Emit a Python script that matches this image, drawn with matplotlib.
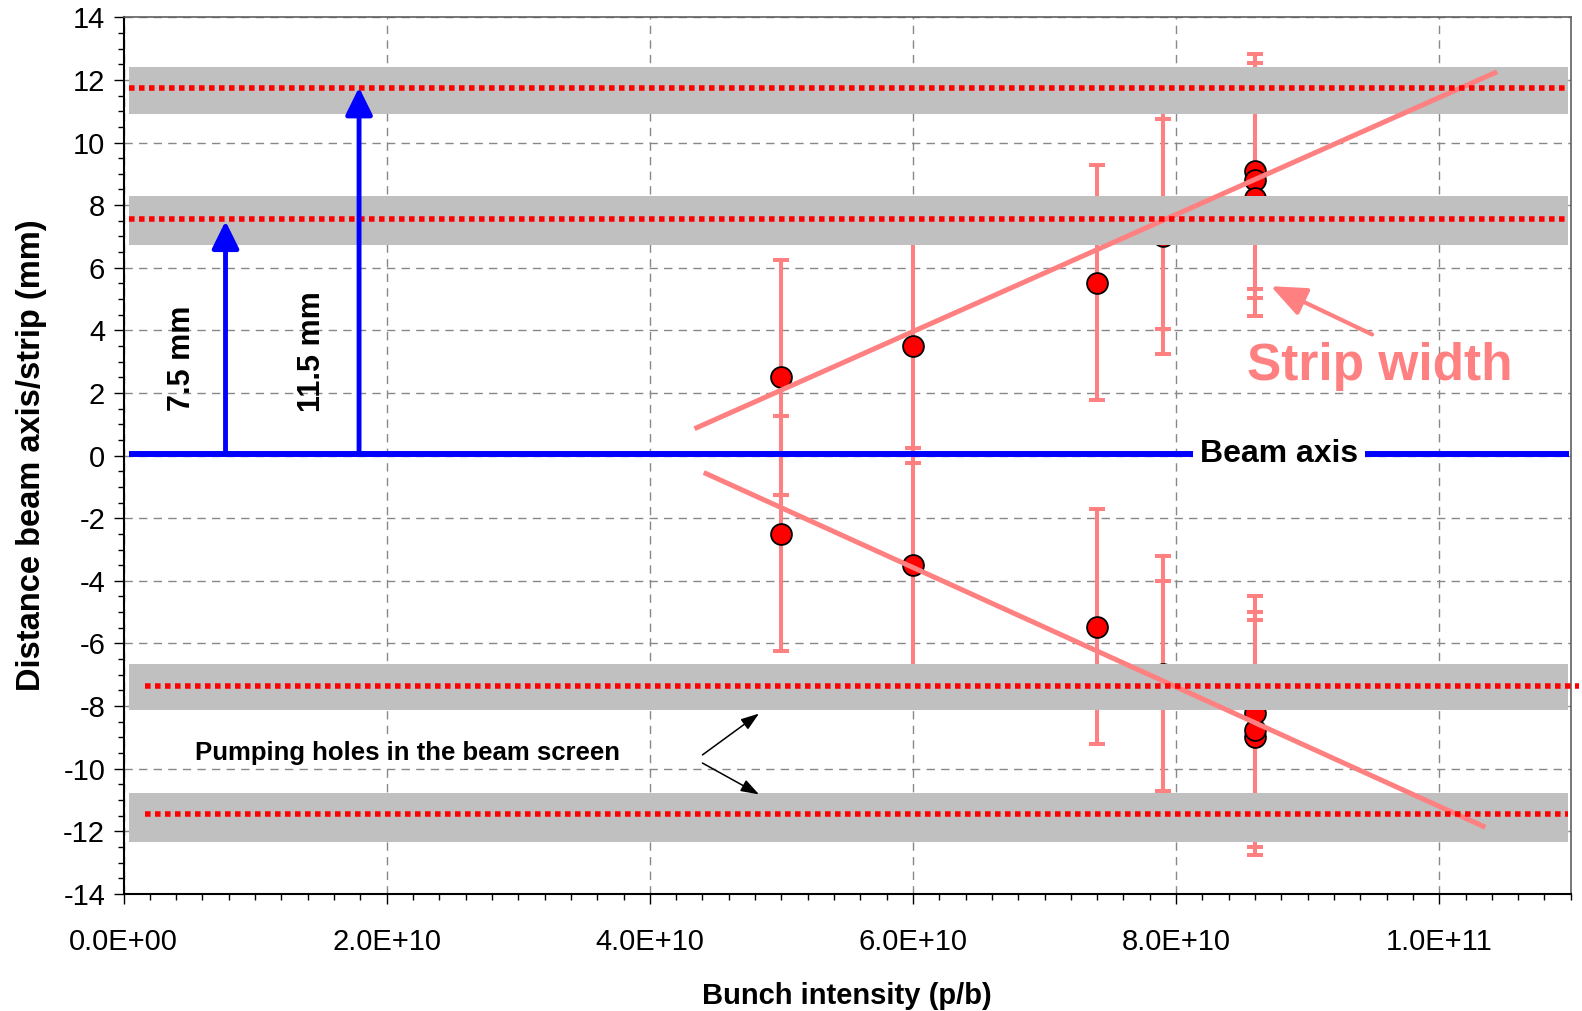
import matplotlib
matplotlib.use("Agg")
import matplotlib.pyplot as plt
from matplotlib.ticker import MultipleLocator, FuncFormatter

plt.rcParams['font.family'] = ['Liberation Sans', 'DejaVu Sans']

# ---------------- data ----------------
intensity = [5.0e10, 6.0e10, 7.4e10, 7.9e10, 7.9e10, 8.6e10, 8.6e10, 8.6e10]
dist_upper = [2.5, 3.5, 5.52, 7.0, 7.8, 9.08, 8.79, 8.22]
dist_lower = [-2.5, -3.5, -5.47, -6.97, -7.75, -9.0, -8.76, -8.23]
strip_half_width = [3.75, 3.75, 3.75, 3.75, 3.75, 3.75, 3.75, 3.75]

# pumping-hole bands (lower, upper) and their centre (dotted) lines
band_limits = [(10.91, 12.41), (6.74, 8.29), (-8.14, -6.66), (-12.35, -10.79)]
hole_lines = [11.75, 7.56, -7.36, -11.45]
hole_line_x = [(0.04e10, 10.98e10), (0.04e10, 10.98e10), (0.16e10, 11.06e10), (0.16e10, 10.98e10)]
band_x = (0.045e10, 10.98e10)

# trend lines
trend_up_x = [4.34e10, 10.44e10]
trend_up_y = [0.86, 12.26]
trend_low_x = [4.41e10, 10.35e10]
trend_low_y = [-0.54, -11.87]

beam_axis_y = 0.05
beam_axis_x = (0.045e10, 10.99e10)

x_ticks = [0, 2e10, 4e10, 6e10, 8e10, 1e11]
y_ticks = list(range(-14, 15, 2))

pink = '#FF8080'

fig = plt.figure(figsize=(15.82, 10.11), dpi=100)
ax = fig.add_axes([0.0781, 0.1158, 0.9148, 0.8671])
ax.set_xlim(0, 1.1e11)
ax.set_ylim(-14, 14)

# grid
ax.set_axisbelow(True)
ax.grid(True, which='major', color='#888888', linestyle=(0, (6, 4.5)), linewidth=1.0)

# error bars + points
for yvals in (dist_upper, dist_lower):
    ax.errorbar(intensity, yvals, yerr=strip_half_width, fmt='none', ecolor=pink,
                elinewidth=2.9, capsize=5.8, capthick=2.9, zorder=2)
    ax.plot(intensity, yvals, 'o', markersize=15, markerfacecolor='#FF0000',
            markeredgecolor='black', markeredgewidth=1.3, zorder=3, linestyle='none')

# gray bands
for lo, hi in band_limits:
    ax.fill_between(band_x, [lo, lo], [hi, hi], color='#C0C0C0', linewidth=0, zorder=4)

# trend lines
ax.plot(trend_up_x, trend_up_y, color=pink, lw=3.6, zorder=5, solid_capstyle='butt')
ax.plot(trend_low_x, trend_low_y, color=pink, lw=3.6, zorder=5, solid_capstyle='butt')

# dotted hole lines
for yv, (x0, x1) in zip(hole_lines, hole_line_x):
    ax.plot([x0, x1], [yv, yv], color='#FF0000', lw=4.0, linestyle=(0, (1, 0.8)),
            zorder=6, clip_on=False, solid_capstyle='butt', dash_capstyle='butt')

# beam axis
ax.plot(beam_axis_x, [beam_axis_y, beam_axis_y], color='#0000FF', lw=4.3, zorder=6,
        solid_capstyle='butt')
ax.text(8.78e10, beam_axis_y, 'Beam axis', fontsize=23, fontweight='bold', ha='center',
        va='center', zorder=8,
        bbox=dict(facecolor='white', edgecolor='none', pad=5))

# blue distance arrows
for xa, ytip in ((0.775e10, 7.49), (1.79e10, 11.76)):
    ax.annotate('', xy=(xa, ytip), xytext=(xa, beam_axis_y),
                arrowprops=dict(arrowstyle='-|>,head_length=0.83,head_width=0.41',
                                color='#0000FF', lw=3.5, mutation_scale=20,
                                shrinkA=0, shrinkB=0),
                zorder=7)
ax.text(0.447e10, 3.1, '7.5 mm', rotation=90, fontsize=22, fontweight='bold',
        ha='center', va='center', zorder=7)
ax.text(1.43e10, 3.32, '11.5 mm', rotation=90, fontsize=22, fontweight='bold',
        ha='center', va='center', zorder=7)

# strip width annotation
ax.text(9.55e10, 2.43, 'Strip width', fontsize=37, fontweight='bold', color=pink,
        ha='center', va='baseline', zorder=8)
ax.annotate('', xy=(8.72e10, 5.41), xytext=(9.49e10, 3.87),
            arrowprops=dict(arrowstyle='-|>,head_length=1.08,head_width=0.45',
                            color=pink, lw=3, mutation_scale=20,
                            shrinkA=0, shrinkB=0), zorder=8)

# pumping holes annotation
ax.text(0.54e10, -9.51, 'Pumping holes in the beam screen', fontsize=18.5,
        fontweight='bold', ha='left', va='center', zorder=8,
        bbox=dict(facecolor='white', edgecolor='none', pad=2))
for tail, tip in (((4.40e10, -9.56), (4.83e10, -8.24)), ((4.40e10, -9.82), (4.83e10, -10.82))):
    ax.annotate('', xy=tip, xytext=tail,
                arrowprops=dict(arrowstyle='-|>,head_length=1.1,head_width=0.38',
                                color='black', lw=1.1, mutation_scale=10,
                                shrinkA=0, shrinkB=0), zorder=8)

# axes styling
ax.set_xticks(x_ticks)
ax.set_yticks(y_ticks)
ax.xaxis.set_minor_locator(MultipleLocator(0.2e10))
ax.yaxis.set_minor_locator(MultipleLocator(0.5))
ax.xaxis.set_major_formatter(FuncFormatter(lambda v, p: '{:.1E}'.format(v)))
ax.yaxis.set_major_formatter(FuncFormatter(lambda v, p: '{:d}'.format(int(round(v)))))
ax.tick_params(axis='both', which='major', direction='out', length=7.2, width=1.0,
               labelsize=21, color='black')
ax.tick_params(axis='both', which='minor', direction='out', length=4.0, width=1.0,
               color='black')
ax.tick_params(axis='x', which='major', pad=17)
ax.tick_params(axis='y', which='major', pad=6)
for s in ('left', 'bottom'):
    ax.spines[s].set_color('black')
    ax.spines[s].set_linewidth(1.5)
for s in ('top', 'right'):
    ax.spines[s].set_color('#606060')
    ax.spines[s].set_linewidth(1.2)

ax.set_xlabel('Bunch intensity (p/b)', fontsize=21, fontweight='bold', labelpad=19)
ax.set_ylabel('Distance beam axis/strip (mm)', fontsize=23.5, fontweight='bold', labelpad=12)

fig.savefig('out.png', dpi=100)
